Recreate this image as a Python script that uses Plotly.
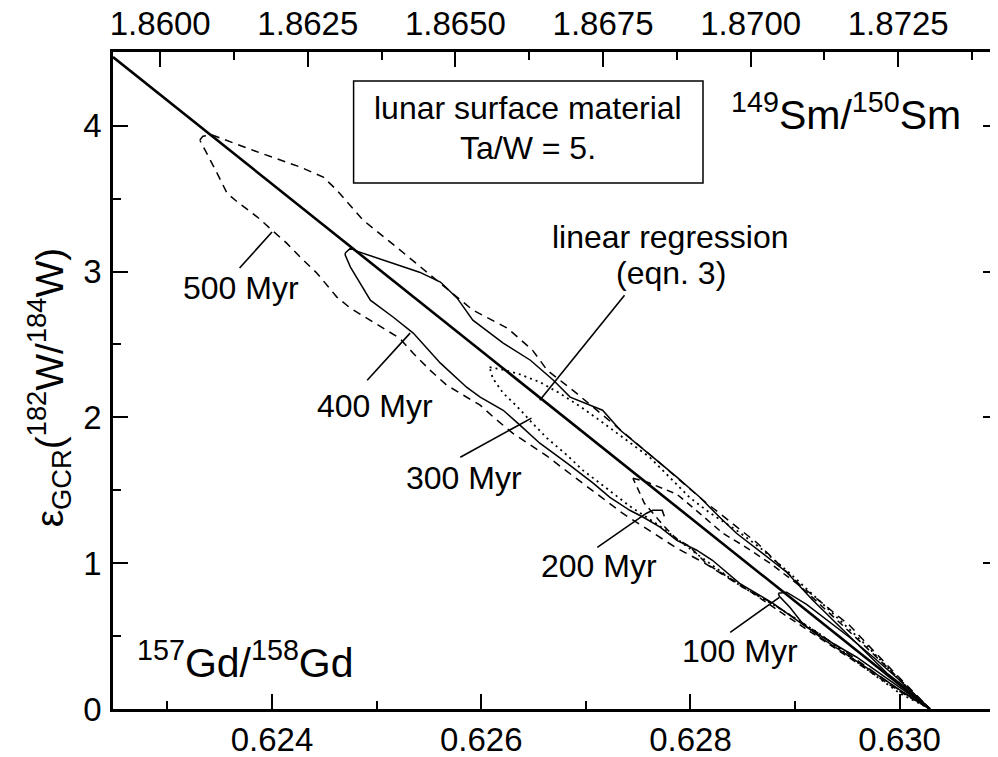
import plotly.graph_objects as go

FONT = "Liberation Sans, Arial, Helvetica, sans-serif"

# linear regression (eqn. 3), bottom axis 157Gd/158Gd
gd_regr = [0.62248, 0.63029]
eps_regr = [4.471, 0.0]
# same line against the top axis 149Sm/150Sm
sm_regr = [1.85920, 1.87304]

# exposure-age loops: tip -> upper branch -> common point -> lower branch -> tip
gd_500 = [0.62331, 0.62334, 0.62343, 0.62389, 0.62427, 0.62449, 0.62462, 0.62487, 0.62519, 0.62561,
          0.62592, 0.62625, 0.62649, 0.62663, 0.62691, 0.62730, 0.62771, 0.62812, 0.62864, 0.62905,
          0.62952, 0.62991, 0.63029,
          0.63000, 0.62971, 0.62946, 0.62921, 0.62895, 0.62873, 0.62850, 0.62812, 0.62787, 0.62761,
          0.62735, 0.62716, 0.62694, 0.62678, 0.62663, 0.62647, 0.62630, 0.62615, 0.62599, 0.62583,
          0.62567, 0.62551, 0.62535, 0.62522, 0.62506, 0.62491, 0.62475, 0.62462, 0.62443, 0.62427,
          0.62414, 0.62400, 0.62386, 0.62367, 0.62357, 0.62347, 0.62341, 0.62334, 0.62331]
eps_500 = [3.902, 3.929, 3.936, 3.813, 3.717, 3.648, 3.559, 3.353, 3.168, 2.921,
           2.736, 2.612, 2.461, 2.324, 2.166, 1.933, 1.686, 1.432, 1.137, 0.849,
           0.574, 0.279, 0.0,
           0.128, 0.279, 0.403, 0.526, 0.643, 0.746, 0.835, 1.007, 1.103, 1.226,
           1.343, 1.446, 1.562, 1.651, 1.734, 1.809, 1.892, 1.981, 2.084, 2.152,
           2.221, 2.324, 2.440, 2.543, 2.612, 2.681, 2.749, 2.825, 2.989, 3.099,
           3.195, 3.284, 3.374, 3.477, 3.538, 3.682, 3.765, 3.868, 3.902]

gd_400 = [0.62470, 0.62475, 0.62481, 0.62506, 0.62541, 0.62561, 0.62577, 0.62592, 0.62608, 0.62621,
          0.62647, 0.62669, 0.62685, 0.62716, 0.62733, 0.62752, 0.62771, 0.62787, 0.62809, 0.62828,
          0.62844, 0.62869, 0.62892, 0.62917, 0.62943, 0.62969, 0.62988, 0.63013, 0.63029,
          0.63000, 0.62981, 0.62959, 0.62936, 0.62911, 0.62879, 0.62847, 0.62821, 0.62806, 0.62787,
          0.62771, 0.62755, 0.62742, 0.62723, 0.62707, 0.62682, 0.62656, 0.62637, 0.62621, 0.62599,
          0.62586, 0.62561, 0.62535, 0.62516, 0.62494, 0.62475, 0.62470, 0.62470]
eps_400 = [3.127, 3.161, 3.140, 3.079, 2.996, 2.928, 2.818, 2.667, 2.578, 2.509,
           2.392, 2.255, 2.139, 2.049, 1.912, 1.796, 1.686, 1.590, 1.452, 1.315,
           1.205, 1.068, 0.938, 0.746, 0.561, 0.382, 0.245, 0.108, 0.0,
           0.149, 0.245, 0.355, 0.451, 0.561, 0.725, 0.862, 1.020, 1.089, 1.157,
           1.247, 1.315, 1.363, 1.452, 1.549, 1.686, 1.823, 1.947, 2.049, 2.139,
           2.207, 2.372, 2.578, 2.687, 2.804, 3.031, 3.113, 3.127]

gd_300 = [0.62608, 0.62618, 0.62634, 0.62656, 0.62675, 0.62697, 0.62713, 0.62735, 0.62761, 0.62780,
          0.62799, 0.62819, 0.62844, 0.62866, 0.62895, 0.62933, 0.62971, 0.63000, 0.63029,
          0.63000, 0.62962, 0.62924, 0.62885, 0.62847, 0.62809, 0.62771, 0.62742, 0.62716, 0.62697,
          0.62682, 0.62663, 0.62649, 0.62634, 0.62621, 0.62611, 0.62608]
eps_300 = [2.344, 2.331, 2.303, 2.242, 2.166, 2.063, 1.981, 1.864, 1.727, 1.590,
           1.452, 1.343, 1.226, 1.109, 0.931, 0.677, 0.416, 0.197, 0.0,
           0.108, 0.307, 0.513, 0.691, 0.849, 1.048, 1.254, 1.391, 1.535, 1.638,
           1.741, 1.857, 1.960, 2.077, 2.166, 2.269, 2.344]

gd_200 = [0.62745, 0.62759, 0.62773, 0.62787, 0.62802, 0.62816, 0.62831, 0.62850, 0.62876, 0.62905,
          0.62933, 0.62962, 0.62991, 0.63029,
          0.63000, 0.62962, 0.62924, 0.62885, 0.62847, 0.62816, 0.62799, 0.62786, 0.62774, 0.62756,
          0.62748, 0.62745]
eps_200 = [1.583, 1.555, 1.514, 1.473, 1.384, 1.295, 1.205, 1.123, 1.000, 0.842,
           0.657, 0.464, 0.266, 0.0,
           0.121, 0.300, 0.485, 0.670, 0.856, 0.993, 1.116, 1.171, 1.260, 1.411,
           1.528, 1.583]

gd_100 = [0.62884, 0.62892, 0.62911, 0.62930, 0.62952, 0.62976, 0.63000, 0.63029,
          0.63005, 0.62981, 0.62962, 0.62943, 0.62924, 0.62907, 0.62895, 0.62885, 0.62884]
eps_100 = [0.794, 0.801, 0.718, 0.615, 0.492, 0.348, 0.197, 0.0,
           0.108, 0.224, 0.314, 0.403, 0.492, 0.588, 0.698, 0.773, 0.794]

# label leader lines
ptr_500_gd, ptr_500_eps = [0.62369, 0.62400], [3.024, 3.271]
ptr_400_gd, ptr_400_eps = [0.62491, 0.62532], [2.255, 2.578]
ptr_300_gd, ptr_300_eps = [0.62580, 0.62648], [1.727, 1.995]
ptr_200_gd = [0.62711, 0.62758, 0.62764, 0.62773, 0.62775]
ptr_200_eps = [1.109, 1.343, 1.363, 1.363, 1.322]
ptr_100_gd, ptr_100_eps = [0.62838, 0.62885], [0.526, 0.766]
ptr_reg_gd, ptr_reg_eps = [0.62737, 0.62656], [2.838, 2.118]


fig = go.Figure()


def add_line(x, y, width=1.5, dash="solid"):
    fig.add_trace(go.Scatter(x=x, y=y, mode="lines", hoverinfo="skip",
                             line=dict(color="black", width=width, dash=dash)))


add_line(gd_500, eps_500, dash="8px,6px")
add_line(gd_400, eps_400)
add_line(gd_300, eps_300, width=1.8, dash="2px,4px")
add_line(gd_200, eps_200, dash="7px,5px")
add_line(gd_100, eps_100)
add_line(gd_regr, eps_regr, width=2.6)
for px, py in [(ptr_500_gd, ptr_500_eps), (ptr_400_gd, ptr_400_eps), (ptr_300_gd, ptr_300_eps),
               (ptr_200_gd, ptr_200_eps), (ptr_100_gd, ptr_100_eps), (ptr_reg_gd, ptr_reg_eps)]:
    add_line(px, py, width=1.6)

# invisible copy on the top / right axes so they get drawn
fig.add_trace(go.Scatter(x=sm_regr, y=eps_regr, xaxis="x2", yaxis="y2", mode="lines",
                         line=dict(color="rgba(0,0,0,0)"), hoverinfo="skip"))

tick_style = dict(ticks="inside", ticklen=15, tickwidth=2, tickcolor="black",
                  showgrid=False, zeroline=False, automargin=False,
                  tickfont=dict(family=FONT, size=33, color="black"))
line_style = dict(showline=True, linewidth=2.5, linecolor="black")

# the page body adds an 8px offset, so the figure is 8px smaller than the window
fig.update_layout(
    width=990, height=749,
    margin=dict(l=105, r=0, t=44, b=48),
    plot_bgcolor="white", paper_bgcolor="white",
    showlegend=False,
    font=dict(family=FONT, size=32, color="black"),
    xaxis=dict(range=[0.62248, 0.63094], tick0=0.624, dtick=0.002, tickformat=".3f",
               ticklabelstandoff=0,
               minor=dict(dtick=0.001, ticks="inside", ticklen=8, tickwidth=2,
                          tickcolor="black", showgrid=False),
               **tick_style, **line_style),
    xaxis2=dict(overlaying="x", side="top", range=[1.85920, 1.87419], tick0=1.86,
                dtick=0.0025, tickformat=".4f", ticklabelstandoff=1,
                minor=dict(dtick=0.00125, ticks="inside", ticklen=8, tickwidth=2,
                           tickcolor="black", showgrid=False),
                **tick_style, **line_style),
    yaxis=dict(range=[0, 4.506], tick0=0, dtick=1, ticklabelstandoff=2,
               minor=dict(dtick=0.5, ticks="inside", ticklen=8, tickwidth=2,
                          tickcolor="black", showgrid=False),
               **tick_style, **line_style),
    yaxis2=dict(overlaying="y", side="right", range=[0, 4.506], tick0=0, dtick=1,
                showline=False, showticklabels=False,
                minor=dict(dtick=0.5, ticks="inside", ticklen=8, tickwidth=2,
                           tickcolor="black", showgrid=False),
                **tick_style),
)

# box with the sample description
fig.add_shape(type="rect", xref="x", yref="y", x0=0.62478, x1=0.62812, y0=3.607, y1=4.307,
              line=dict(color="black", width=1.5), fillcolor="white", layer="below")

labels = [
    ("lunar surface material", 0.62645, 4.121),
    ("Ta/W = 5.", 0.62645, 3.847),
    ("500 Myr", 0.62370, 2.886),
    ("400 Myr", 0.62498, 2.077),
    ("300 Myr", 0.62584, 1.583),
    ("200 Myr", 0.62713, 0.979),
    ("100 Myr", 0.62847, 0.396),
    ("linear regression", 0.62781, 3.236),
    ("(eqn. 3)", 0.62781, 2.989),
]
for text, x, y in labels:
    fig.add_annotation(text=text, x=x, y=y, xref="x", yref="y", showarrow=False,
                       font=dict(family=FONT, size=32, color="black"))

fig.add_annotation(text="<sup>149</sup>Sm/<sup>150</sup>Sm", x=0.62949, y=4.094,
                   xref="x", yref="y", showarrow=False,
                   font=dict(family=FONT, size=41, color="black"))
fig.add_annotation(text="<sup>157</sup>Gd/<sup>158</sup>Gd", x=0.62375, y=0.334,
                   xref="x", yref="y", showarrow=False,
                   font=dict(family=FONT, size=41, color="black"))

fig.add_annotation(text="ε<sub>GCR</sub>(<sup>182</sup>W/<sup>184</sup>W)",
                   x=-0.072, y=0.49, xref="paper", yref="paper", textangle=-90,
                   xanchor="center", yanchor="middle",
                   showarrow=False, font=dict(family=FONT, size=39, color="black"))

fig.write_html("out.html")
